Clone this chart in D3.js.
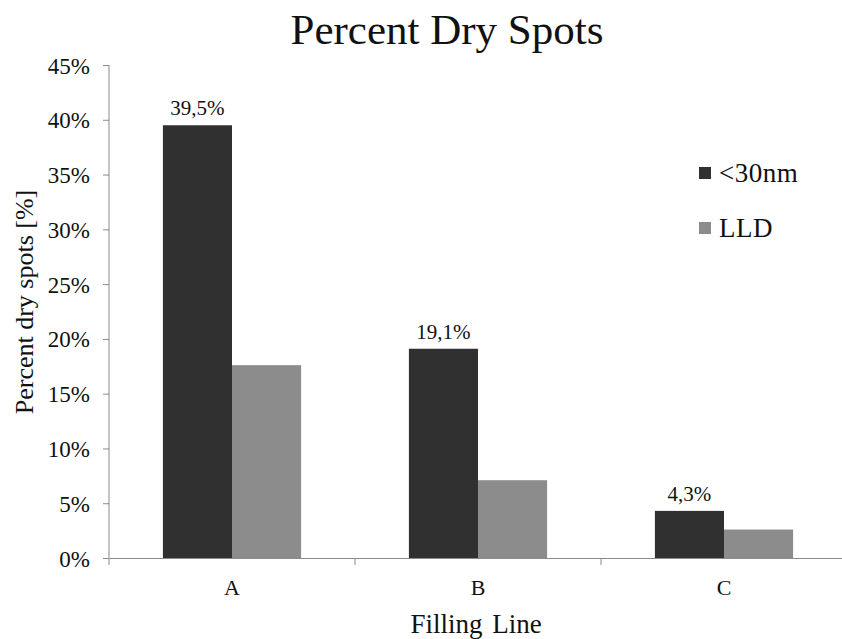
<!DOCTYPE html>
<html>
<head>
<meta charset="utf-8">
<script src="https://cdn.jsdelivr.net/npm/d3@7"></script>
<style>
  body { margin: 0; background: #fff; }
  svg text { font-family: "Liberation Serif", "Times New Roman", serif; fill: #111; }
  .axis path, .axis line { stroke: #8a8a8a; }
</style>
</head>
<body>
<div id="chart"></div>
<script>
  // chart data
  var categories = ['A', 'B', 'C'];
  var seriesNames = ['<30nm', 'LLD'];
  var smallValues = [39.5, 19.1, 4.3];
  var lldValues = [17.6, 7.1, 2.6];
  var yTicks = [0, 5, 10, 15, 20, 25, 30, 35, 40, 45];
  var COLORS = ['#303030', '#8c8c8c'];
  var SERIF = '"Liberation Serif", "Times New Roman", serif';

  var width = 842;
  var height = 639;
  var margin = { top: 65, right: -5, bottom: 81, left: 109 };

  var svg = d3.select('#chart').append('svg')
    .attr('width', width)
    .attr('height', height)
    .attr('font-family', SERIF);

  var x = d3.scaleBand()
    .domain(categories)
    .range([margin.left, width - margin.right]);

  var xInner = d3.scaleBand()
    .domain(seriesNames)
    .range([0, x.bandwidth()])
    .paddingOuter(0.78)
    .paddingInner(0);

  var y = d3.scaleLinear()
    .domain([0, 45])
    .range([height - margin.bottom, margin.top]);

  /* y axis */
  var yAxis = svg.append('g')
    .attr('class', 'axis')
    .attr('transform', 'translate(' + margin.left + ',0)')
    .call(d3.axisLeft(y).tickValues(yTicks).tickSize(6).tickSizeOuter(0)
      .tickFormat(function (d) { return d + '%'; }))
    .attr('font-family', SERIF);
  yAxis.select('.domain').attr('d', 'M0,' + (y(45)) + 'V' + (y(0) + 7));
  yAxis.selectAll('text')
    .attr('x', -19)
    .attr('dy', '0.35em')
    .style('font-family', SERIF)
    .style('font-size', '23px');

  /* x axis */
  var xAxis = svg.append('g')
    .attr('class', 'axis')
    .attr('transform', 'translate(0,' + y(0) + ')')
    .call(d3.axisBottom(x).tickSize(0).tickSizeOuter(0))
    .attr('font-family', SERIF);
  xAxis.selectAll('text')
    .attr('y', 37)
    .attr('dy', null)
    .style('font-family', SERIF)
    .style('font-size', '22px');
  // category separators
  xAxis.selectAll('.sep')
    .data(categories.slice(1))
    .enter()
    .append('line')
    .attr('class', 'sep')
    .attr('x1', function (d) { return x(d); })
    .attr('x2', function (d) { return x(d); })
    .attr('y1', 0)
    .attr('y2', 7);

  /* bars */
  var rows = categories.map(function (c, i) {
    return { cat: c, values: [smallValues[i], lldValues[i]] };
  });

  var groups = svg.selectAll('.group')
    .data(rows)
    .enter()
    .append('g')
    .attr('class', 'group')
    .attr('transform', function (d) { return 'translate(' + x(d.cat) + ',0)'; });

  groups.selectAll('rect')
    .data(function (d) {
      return d.values.map(function (v, i) { return { name: seriesNames[i], value: v, idx: i }; });
    })
    .enter()
    .append('rect')
    .attr('x', function (d) { return xInner(d.name); })
    .attr('width', xInner.bandwidth())
    .attr('y', function (d) { return y(d.value); })
    .attr('height', function (d) { return y(0) - y(d.value); })
    .attr('fill', function (d) { return COLORS[d.idx]; });

  /* value labels on the <30nm bars */
  groups.append('text')
    .attr('x', function () { return xInner(seriesNames[0]) + xInner.bandwidth() / 2; })
    .attr('y', function (d) { return y(d.values[0]) - 10; })
    .attr('text-anchor', 'middle')
    .style('font-family', SERIF)
    .style('font-size', '21px')
    .text(function (d) { return String(d.values[0]).replace('.', ',') + '%'; });

  /* title and axis titles */
  svg.append('text')
    .attr('x', 447)
    .attr('y', 44)
    .attr('text-anchor', 'middle')
    .style('font-family', SERIF)
    .style('font-size', '43px')
    .text('Percent Dry Spots');

  svg.append('text')
    .attr('transform', 'translate(33,' + 302 + ') rotate(-90)')
    .attr('text-anchor', 'middle')
    .style('font-family', SERIF)
    .style('font-size', '26px')
    .text('Percent dry spots [%]');

  svg.append('text')
    .attr('x', 476)
    .attr('y', 633)
    .attr('text-anchor', 'middle')
    .style('font-family', SERIF)
    .style('font-size', '27px')
    .style('word-spacing', '3px')
    .text('Filling Line');

  /* legend */
  var legend = svg.selectAll('.legend')
    .data(seriesNames)
    .enter()
    .append('g')
    .attr('class', 'legend')
    .attr('transform', function (d, i) { return 'translate(699,' + (167 + i * 55) + ')'; });

  legend.append('rect')
    .attr('width', 12)
    .attr('height', 12)
    .attr('fill', function (d, i) { return COLORS[i]; });

  legend.append('text')
    .attr('x', 20)
    .attr('y', 15)
    .style('font-family', SERIF)
    .style('font-size', '27px')
    .style('letter-spacing', '0.5px')
    .text(function (d) { return d; });
</script>
</body>
</html>
